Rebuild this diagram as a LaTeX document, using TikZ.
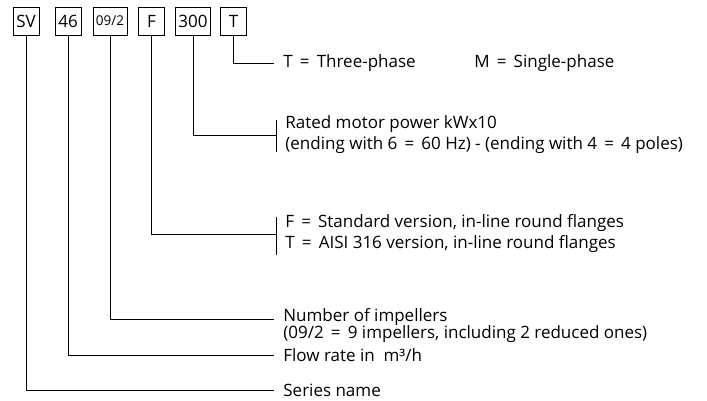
\documentclass[tikz,border=0pt]{standalone}
\usepackage{fontspec}
\setmainfont{Open Sans}
\usetikzlibrary{positioning}

\newcommand{\eq}{\hspace{0.42em}=\hspace{0.42em}}

\begin{document}
\begin{tikzpicture}[x=1pt, y=-1pt, line width=0.8pt,
  every node/.style={font=\fontsize{17}{21}\selectfont},
  box/.style={draw, minimum width=26pt, minimum height=28pt, inner xsep=3pt, inner ysep=1pt},
  lbl/.style={anchor=west, align=left, inner xsep=9pt, inner ysep=0pt}]
  \useasboundingbox (0,0) rectangle (707,401);
  % code boxes
  \node[box] (sv)  at (26,21)    {SV};
  \node[box] (fr)  at (68,21)    {46};
  \node[box, font=\fontsize{13.5}{14}\selectfont] (imp) at (110,21) {09/2};
  \node[box] (ver) at (151.5,21) {F};
  \node[box] (pw)  at (193,21)   {300};
  \node[box] (ph)  at (233.5,21) {T};
  % descriptions
  \node[lbl] (phT) at (274,63)  {T\eq Three-phase};
  \node[lbl] (phM) at (465,63)  {M\eq Single-phase};
  \node[lbl] (pwT) at (276,135) {Rated motor power kWx10\\(ending with 6\eq 60 Hz) - (ending with 4\eq 4 poles)};
  \node[lbl] (verT) at (276,234) {F\eq Standard version, in-line round flanges\\T\eq AISI 316 version, in-line round flanges};
  \node[lbl, font=\fontsize{17}{17}\selectfont] (impT) at (274,326) {Number of impellers\\(09/2\eq 9 impellers, including 2 reduced ones)};
  \node[lbl] (frT) at (274,355) {Flow rate in \ m³/h};
  \node[lbl] (svT) at (274,390) {Series name};
  % brackets
  \draw[shorten <=4pt, shorten >=2pt] (pwT.north west) -- (pwT.south west);
  \draw[shorten <=2pt, shorten >=-2pt] (verT.north west) -- (verT.south west);
  % leaders
  \draw (ph.south) |- (phT.west);
  \draw (pw.south) |- (pwT.west);
  \draw (ver.south) |- (verT.west);
  \draw (imp.south) |- ([yshift=7pt]impT.west);
  \draw (fr.south) |- (frT.west);
  \draw (sv.south) |- (svT.west);
\end{tikzpicture}
\end{document}
